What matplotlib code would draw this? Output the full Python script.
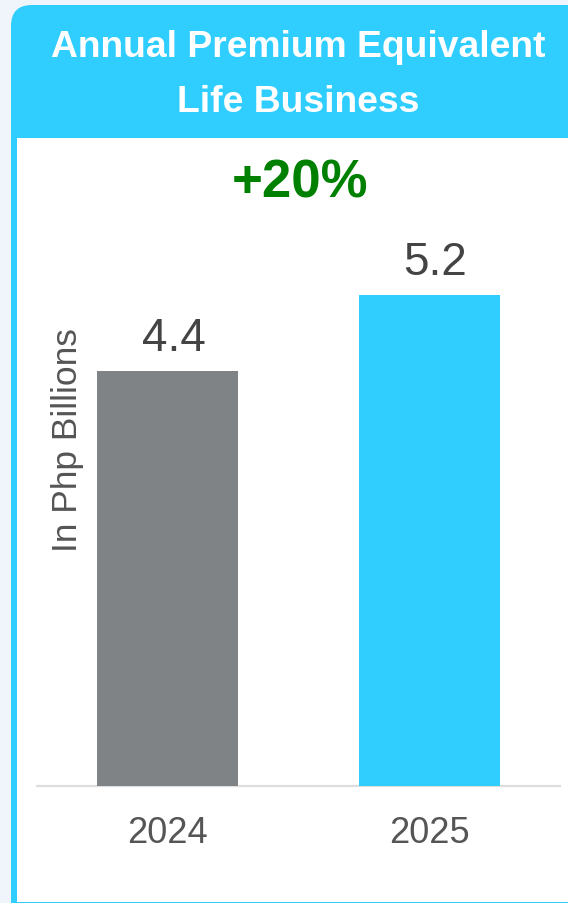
import matplotlib
matplotlib.use("Agg")
import matplotlib.pyplot as plt
from matplotlib.patches import FancyBboxPatch, Rectangle

years = ["2024", "2025"]
values = [4.4, 5.2]
value_labels = ["4.4", "5.2"]
bar_colors = ["#808386", "#30cdff"]
title_lines = ["Annual Premium Equivalent", "Life Business"]
growth_label = "+20%"
y_label = "In Php Billions"

W, H = 568, 904
plt.rcParams['font.family'] = ['Liberation Sans', 'DejaVu Sans']
fig = plt.figure(figsize=(W / 100, H / 100), dpi=100, facecolor="#f0f5fc")

def fx(px):
    return px / W

def fy(py):
    return 1 - py / H

# Card: cyan rounded background with header, white body
card = FancyBboxPatch((fx(11), fy(940)), fx(620), (940 - 6) / H,
                      boxstyle="round,pad=0,rounding_size=0.037",
                      transform=fig.transFigure, facecolor="#30cdff",
                      edgecolor="none", mutation_aspect=W / H, zorder=-10)
fig.patches.append(card)
body = Rectangle((fx(17), fy(902.5)), fx(600), (902.5 - 139) / H,
                 transform=fig.transFigure, facecolor="white", edgecolor="none",
                 zorder=-9)
fig.patches.append(body)

# Title
fig.text(fx(298.5), fy(57), title_lines[0], color="white", fontsize=26.8,
         fontweight="bold", ha="center", va="baseline")
fig.text(fx(298.5), fy(112), title_lines[1], color="white", fontsize=26.8,
         fontweight="bold", ha="center", va="baseline")

# Growth label
fig.text(fx(300), fy(197), growth_label, color="#008000", fontsize=38,
         fontweight="bold", ha="center", va="baseline")

# Axes
base_px = 786.5
top_px = 200
scale = 94.3
ax = fig.add_axes([fx(37), fy(base_px), fx(560 - 37), (base_px - top_px) / H])
ax.set_facecolor("none")
x = list(range(len(years)))
bars = ax.bar(x, values, width=0.54, color=bar_colors, zorder=2)
ax.set_xlim(-0.5, 1.5)
ax.set_ylim(0, (base_px - top_px) / scale)
for s in ["top", "right", "left"]:
    ax.spines[s].set_visible(False)
ax.spines["bottom"].set_color("#dddddd")
ax.spines["bottom"].set_linewidth(1.6)
ax.spines["bottom"].set_zorder(1)
ax.set_yticks([])
ax.set_xticks(x)
ax.set_xticklabels(years, fontsize=26, color="#555555")
ax.tick_params(axis="x", length=0, pad=21)

for xi, v, lab in zip(x, values, value_labels):
    ax.annotate(lab, (xi, v), xytext=(4.5, 15), textcoords="offset points",
                ha="center", va="baseline", fontsize=33, color="#444444")

fig.text(fx(67), fy(440), y_label, rotation=90, color="#555555", fontsize=25.5,
         ha="center", va="center")

fig.savefig("out.png", dpi=100, facecolor=fig.get_facecolor())
